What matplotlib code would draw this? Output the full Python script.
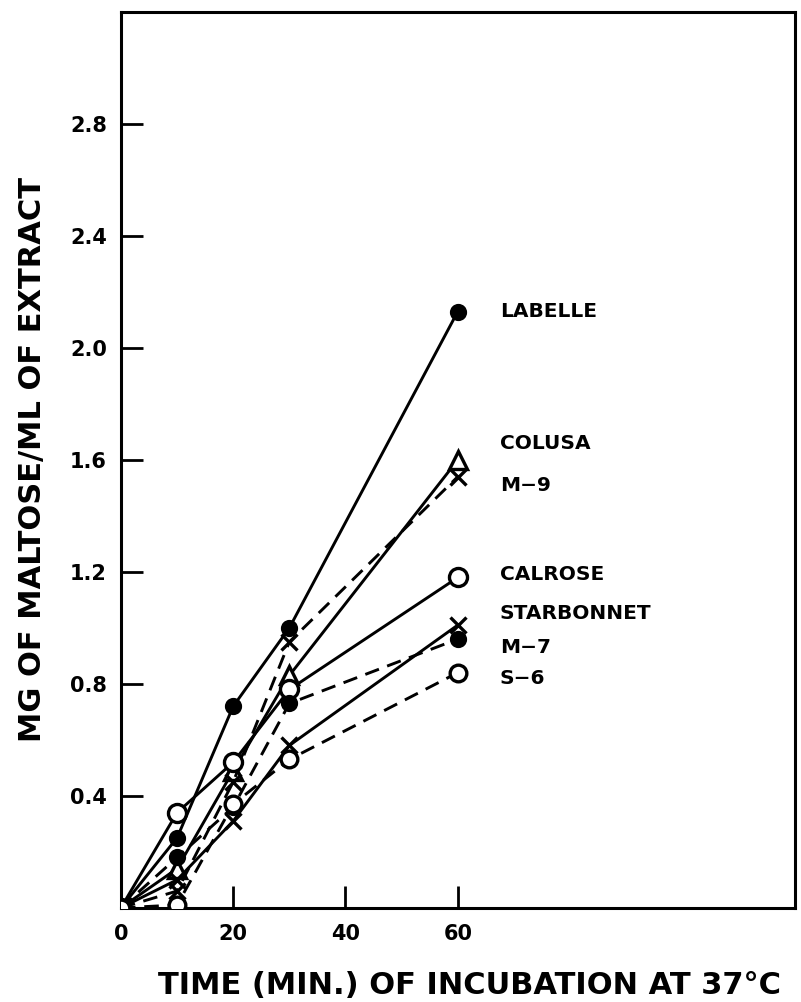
import matplotlib.pyplot as plt

# incubation time (min) and maltose (mg/ml extract)
tiempos = [0, 10, 20, 30, 60]
labelle = [0, 0.25, 0.72, 1.00, 2.13]
colusa = [0, 0.14, 0.49, 0.83, 1.60]
m9 = [0, 0.06, 0.45, 0.95, 1.54]
calrose = [0, 0.34, 0.52, 0.78, 1.18]
starbonnet = [0, 0.10, 0.31, 0.58, 1.01]
m7 = [0, 0.18, 0.36, 0.73, 0.96]
s6 = [0, 0.01, 0.37, 0.53, 0.84]

nombres = ['LABELLE', 'COLUSA', 'M\u22129', 'CALROSE', 'STARBONNET', 'M\u22127', 'S\u22126']
nombre_y = [2.13, 1.66, 1.51, 1.19, 1.05, 0.93, 0.82]

yticks = [0.4, 0.8, 1.2, 1.6, 2.0, 2.4, 2.8]
xticks = [0, 20, 40, 60]

fig = plt.figure(figsize=(8.01, 10.02), dpi=100)
ax = fig.add_axes([0.151, 0.094, 0.841, 0.894])

lw = 2.1
series = [
    (labelle, '-', 'o', 'black', 10),
    (colusa, '-', '^', 'white', 13),
    (m9, '--', 'x', 'black', 11),
    (calrose, '-', 'o', 'white', 13),
    (starbonnet, '-', 'x', 'black', 11),
    (m7, '--', 'o', 'black', 10),
    (s6, '--', 'o', 'white', 12),
]
for vals, ls, mk, fc, ms in series:
    ax.plot(tiempos, vals, linestyle=ls, color='black', lw=lw,
            marker=mk, markersize=ms, markerfacecolor=fc,
            markeredgecolor='black', markeredgewidth=2.4,
            dashes=(5, 3) if ls == '--' else (None, None), zorder=3)

for nom, yv in zip(nombres, nombre_y):
    ax.text(67.5, yv, nom, fontsize=14.5, fontweight='bold', va='center', ha='left')

ax.set_xlim(0, 120)
ax.set_ylim(0, 3.2)
ax.set_xticks(xticks)
ax.set_xticklabels([str(t) for t in xticks])
ax.set_yticks(yticks)
ax.set_yticklabels([f'{t:.1f}' for t in yticks])

for s in ax.spines.values():
    s.set_linewidth(2.2)
ax.tick_params(direction='in', length=16, width=2.0, labelsize=15, pad=12)
ax.tick_params(axis='y', pad=10)
for lab in ax.get_xticklabels() + ax.get_yticklabels():
    lab.set_fontweight('bold')

ax.set_xlabel('TIME (MIN.) OF INCUBATION AT 37\u00b0C', fontsize=22,
              fontweight='bold', va='center')
ax.xaxis.set_label_coords(0.518, -0.087)
ax.set_ylabel('MG OF MALTOSE/ML OF EXTRACT', fontsize=22,
              fontweight='bold', labelpad=17)

fig.savefig('out.png', dpi=100)
